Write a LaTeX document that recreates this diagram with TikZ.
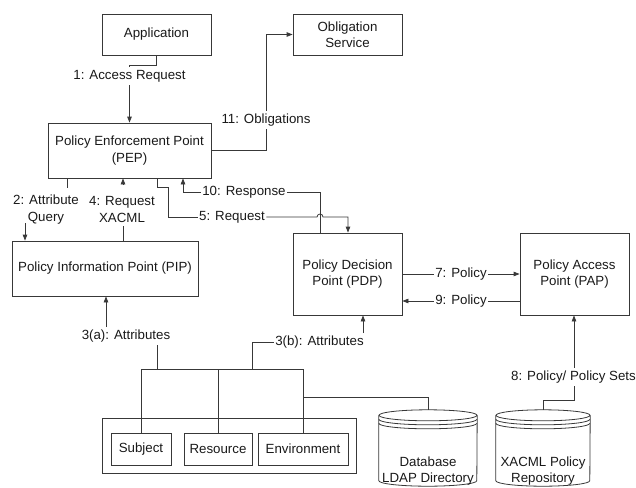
\documentclass[tikz,border=0pt]{standalone}
\usepackage{fontspec}
\setmainfont{Liberation Sans}
\usetikzlibrary{arrows.meta,calc}
\begin{document}
\begin{tikzpicture}[x=1pt,y=-1pt,
  every node/.append style={font=\fontsize{13.3}{16.5}\selectfont, text=black!90},
  ink/.style={draw=black!78, line width=0.8pt},
  >={Triangle[length=6pt,width=4.5pt]},
  box/.style n args={2}{ink, rectangle, minimum width=#1, minimum height=#2,
    inner sep=0pt, align=center},
  lbl/.style={inner xsep=1.5pt, inner ysep=3pt, align=center},
  drumframe/.style n args={2}{rectangle, minimum width=#1, minimum height=#2, inner sep=0pt}
]
\useasboundingbox (0,0) rectangle (636,487);

% ---------- boxes ----------
\node[box={109pt}{41pt}] (app) at (156.5,34.5) {Application};
\node[box={109pt}{41pt}] (obl) at (347.5,34.5) {Obligation\\Service};
\node[box={163pt}{55pt}] (pep) at (129.5,150.5) {Policy Enforcement Point\\(PEP)};
\node[box={186pt}{55pt}] (pip) at (105,268.5) {Policy Information Point (PIP)};
\node[box={109pt}{82pt}] (pdp) at (347.5,274) {Policy Decision\\Point (PDP)};
\node[box={109pt}{82pt}] (pap) at (574.5,274) {Policy Access\\Point (PAP)};

\node[box={254pt}{55pt}] (outer) at (229,445.5) {};
\node[box={60pt}{32pt}] (subj) at (141,449) {Subject};
\node[box={68pt}{32pt}] (res) at (218,449) {Resource};
\node[box={90pt}{32pt}] (env) at (303,449) {Environment};

% ---------- data stores (cylinders) ----------
\node[drumframe={98pt}{76pt}] (db) at (428,448) {};
\node[drumframe={94pt}{76pt}] (repo) at (543,448) {};
\foreach \n/\r in {db/49, repo/47}{
  \draw[ink] ($(\n.north)+(0,5.5)$) ellipse [x radius=\r pt, y radius=5.5pt];
  \draw[ink] ($(\n.north west)+(0,9.5)$)
     arc[start angle=180, end angle=360, x radius=\r pt, y radius=5.5pt];
  \draw[ink] ($(\n.north west)+(0,13.5)$)
     arc[start angle=180, end angle=360, x radius=\r pt, y radius=5.5pt];
  \draw[ink] ($(\n.north west)+(0,5.5)$) -- ($(\n.south west)+(0,-5.5)$)
     arc[start angle=180, end angle=360, x radius=\r pt, y radius=5.5pt]
     -- ($(\n.north east)+(0,5.5)$);
}
\node[align=center, inner sep=0pt] (dbt) at (428,471) {Database\\LDAP Directory};
\node[align=center, inner sep=0pt] (repot) at (543,471) {XACML Policy\\Repository};

% ---------- 1: access request ----------
\node[lbl] (l1) at (129.5,76) {1: Access Request};
\draw[ink] (app.south) -- ++(0,10) -| (l1.north);
\draw[ink,->] (l1.south) -- (l1.south |- pep.north);

% ---------- 11: obligations ----------
\node[lbl] (l11) at (266,120) {11: Obligations};
\draw[ink] (pep.east) -| (l11.south);
\draw[ink,->] (l11.north) |- (obl.west);

% ---------- 2: attribute query ----------
\node[lbl] (l2) at (46,209.5) {2: Attribute\\Query};
\coordinate (c2a) at (67,188);
\coordinate (c2b) at (25,223);
\draw[ink] (pep.south -| c2a) -- (c2a);
\draw[ink,->] (c2b) -- (c2b |- pip.north);

% ---------- 4: request XACML ----------
\node[lbl] (l4) at (122,209.5) {4: Request\\XACML};
\coordinate (c4a) at (123,226);
\coordinate (c4b) at (123,185);
\draw[ink] (pip.north -| c4a) -- (c4a);
\draw[ink,->] (c4b) -- (c4b |- pep.south);

% ---------- 10: response ----------
\node[lbl] (l10) at (244,192) {10: Response};
\coordinate (c10a) at (320,192);
\coordinate (c10b) at (183,192);
\draw[ink] (pdp.north -| c10a) -- (c10a) -- (l10.east);
\draw[ink,->] (l10.west) -- (c10b) -- (c10b |- pep.south);

% ---------- 5: request (hops over the response line) ----------
\node[lbl] (l5) at (232,217) {5: Request};
\coordinate (c5a) at (157,187);
\coordinate (c5d) at (348,217);
\draw[ink] (pep.south -| c5a) -- (c5a) -- ++(11,0) |- (l5.west);
\draw[ink,->] (l5.east) -- ($(c10a |- l5)+(-3,0)$)
   arc[start angle=180, end angle=0, radius=3pt] -- (c5d) -- (c5d |- pdp.north);

% ---------- 7 / 9: policy ----------
\node[lbl] (l7) at (461,274) {7: Policy};
\draw[ink] (pdp.east |- l7) -- (l7.west);
\draw[ink,->] (l7.east) -- (pap.west |- l7);
\node[lbl] (l9) at (461,301) {9: Policy};
\draw[ink] (pap.west |- l9) -- (l9.east);
\draw[ink,->] (l9.west) -- (pdp.east |- l9);

% ---------- attribute sources ----------
\coordinate (tl) at (141,369);
\coordinate (tr) at (303,369);
\draw[ink] (subj.north) -- (subj.north |- tl) -- (tr) -- (env.north);
\draw[ink] (res.north) -- (res.north |- tl);
\coordinate (cdb) at (303,397);
\draw[ink] (cdb) -| (db.north);

% 3(a)
\node[lbl] (l3a) at (126,336) {3(a): Attributes};
\coordinate (c3a) at (106,327);
\coordinate (c3aj) at (157,369);
\draw[ink] (c3aj) -- (c3aj |- l3a.south);
\draw[ink,->] (c3a) -- (c3a |- pip.south);

% 3(b)
\node[lbl] (l3b) at (319.5,342) {3(b): Attributes};
\coordinate (c3b) at (252,369);
\coordinate (c3bt) at (363,333);
\draw[ink] (c3b) |- (l3b.west);
\draw[ink,->] (c3bt) -- (c3bt |- pdp.south);

% ---------- 8: policy / policy sets ----------
\node[lbl] (l8) at (573.5,377) {8: Policy/ Policy Sets};
\coordinate (c8) at (574,400);
\draw[ink] (repo.north) |- (c8) -- (c8 |- l8.south);
\draw[ink,->] (l8.north -| c8) -- (c8 |- pap.south);
\end{tikzpicture}
\end{document}
